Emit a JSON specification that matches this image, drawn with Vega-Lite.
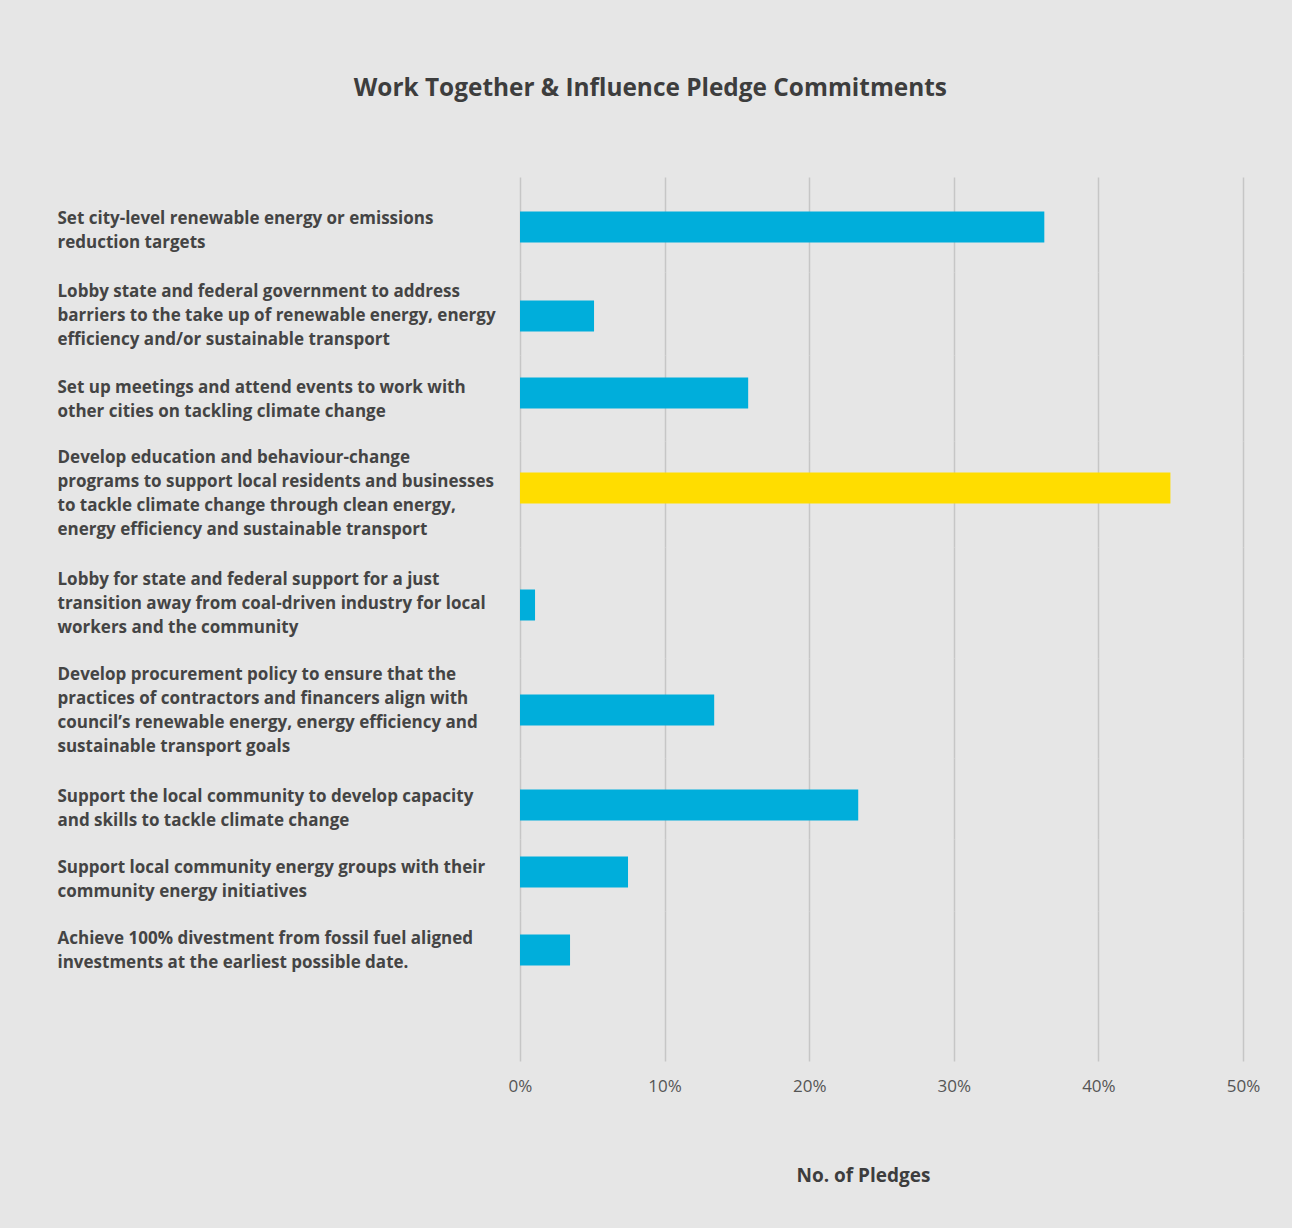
{
  "$schema": "https://vega.github.io/schema/vega-lite/v6.json",
  "autosize": {"type": "pad"},
  "padding": {"left": 57, "top": 75, "right": 32, "bottom": 43},
  "background": "#e6e6e6",
  "bounds": "flush",
  "spacing": 0,
  "config": {
    "view": {"stroke": null},
    "font": "Open Sans",
    "bar": {"height": 31},
    "axisY": {
      "ticks": false,
      "tickSize": 0,
      "domain": false,
      "grid": false,
      "labelAlign": "left",
      "labelBaseline": "middle",
      "labelPadding": 463,
      "labelLimit": 520,
      "labelFont": "Open Sans",
      "labelFontSize": 17,
      "labelFontWeight": "bold",
      "labelColor": "#444444",
      "labelLineHeight": 24
    },
    "axisX": {
      "grid": true,
      "gridColor": "#c6c6c6",
      "gridWidth": 1.5,
      "domain": false,
      "ticks": false,
      "tickSize": 0,
      "labelPadding": 17,
      "labelFont": "Open Sans",
      "labelFontSize": 17,
      "labelColor": "#555555",
      "labelFlush": false,
      "titleFont": "Open Sans",
      "titleFontSize": 19,
      "titleFontWeight": "bold",
      "titleColor": "#3d3d3d"
    }
  },
  "title": {
    "text": "Work Together & Influence Pledge Commitments",
    "font": "Open Sans",
    "fontSize": 24.4,
    "fontWeight": "bold",
    "color": "#3d3d3d",
    "anchor": "middle",
    "baseline": "middle",
    "offset": 64,
    "dx": -8
  },
  "data": {
    "values": [
      {"pledge": "Set city-level renewable energy or emissions\nreduction targets", "pct": 0.3626},
      {"pledge": "Lobby state and federal government to address\nbarriers to the take up of renewable energy, energy\nefficiency and/or sustainable transport", "pct": 0.0512},
      {"pledge": "Set up meetings and attend events to work with\nother cities on tackling climate change", "pct": 0.1578},
      {"pledge": "Develop education and behaviour-change\nprograms to support local residents and businesses\nto tackle climate change through clean energy,\nenergy efficiency and sustainable transport", "pct": 0.4498},
      {"pledge": "Lobby for state and federal support for a just\ntransition away from coal-driven industry for local\nworkers and the community", "pct": 0.0104},
      {"pledge": "Develop procurement policy to ensure that the\npractices of contractors and financers align with\ncouncil’s renewable energy, energy efficiency and\nsustainable transport goals", "pct": 0.1343},
      {"pledge": "Support the local community to develop capacity\nand skills to tackle climate change", "pct": 0.2339},
      {"pledge": "Support local community energy groups with their\ncommunity energy initiatives", "pct": 0.0747},
      {"pledge": "Achieve 100% divestment from fossil fuel aligned\ninvestments at the earliest possible date.", "pct": 0.0346}
    ]
  },
  "vconcat": [
    {
      "width": 723, "height": 95,
      "transform": [{"filter": "indexof(datum.pledge, 'Set city') === 0"}],
      "mark": "bar",
      "encoding": {
        "y": {"field": "pledge", "type": "nominal", "title": null, "scale": {"paddingInner": 0, "paddingOuter": 1, "align": 0.5395}, "axis": {"labelOffset": -8, "labelExpr": "split(datum.label, '\\n')"}},
        "x": {"field": "pct", "type": "quantitative", "scale": {"domain": [0, 0.5], "nice": false}, "axis": {"values": [0, 0.1, 0.2, 0.3, 0.4, 0.5], "labels": false, "title": null}},
        "color": {"condition": {"test": "datum.pct > 0.4", "value": "#FFDD00"}, "value": "#00AEDB"}
      }
    },
    {
      "width": 723, "height": 83,
      "transform": [{"filter": "indexof(datum.pledge, 'Lobby state') === 0"}],
      "mark": "bar",
      "encoding": {
        "y": {"field": "pledge", "type": "nominal", "title": null, "scale": {"paddingInner": 0, "paddingOuter": 1, "align": 0.5452}, "axis": {"labelOffset": -24, "labelExpr": "split(datum.label, '\\n')"}},
        "x": {"field": "pct", "type": "quantitative", "scale": {"domain": [0, 0.5], "nice": false}, "axis": {"values": [0, 0.1, 0.2, 0.3, 0.4, 0.5], "labels": false, "title": null}},
        "color": {"condition": {"test": "datum.pct > 0.4", "value": "#FFDD00"}, "value": "#00AEDB"}
      }
    },
    {
      "width": 723, "height": 86,
      "transform": [{"filter": "indexof(datum.pledge, 'Set up meetings') === 0"}],
      "mark": "bar",
      "encoding": {
        "y": {"field": "pledge", "type": "nominal", "title": null, "scale": {"paddingInner": 0, "paddingOuter": 1, "align": 0.4128}, "axis": {"labelOffset": -5, "labelExpr": "split(datum.label, '\\n')"}},
        "x": {"field": "pct", "type": "quantitative", "scale": {"domain": [0, 0.5], "nice": false}, "axis": {"values": [0, 0.1, 0.2, 0.3, 0.4, 0.5], "labels": false, "title": null}},
        "color": {"condition": {"test": "datum.pct > 0.4", "value": "#FFDD00"}, "value": "#00AEDB"}
      }
    },
    {
      "width": 723, "height": 106,
      "transform": [{"filter": "indexof(datum.pledge, 'Develop education') === 0"}],
      "mark": "bar",
      "encoding": {
        "y": {"field": "pledge", "type": "nominal", "title": null, "scale": {"paddingInner": 0, "paddingOuter": 1, "align": 0.4151}, "axis": {"labelOffset": -30, "labelExpr": "split(datum.label, '\\n')"}},
        "x": {"field": "pct", "type": "quantitative", "scale": {"domain": [0, 0.5], "nice": false}, "axis": {"values": [0, 0.1, 0.2, 0.3, 0.4, 0.5], "labels": false, "title": null}},
        "color": {"condition": {"test": "datum.pct > 0.4", "value": "#FFDD00"}, "value": "#00AEDB"}
      }
    },
    {
      "width": 723, "height": 111,
      "transform": [{"filter": "indexof(datum.pledge, 'Lobby for state') === 0"}],
      "mark": "bar",
      "encoding": {
        "y": {"field": "pledge", "type": "nominal", "title": null, "scale": {"paddingInner": 0, "paddingOuter": 1, "align": 0.5338}, "axis": {"labelOffset": -25, "labelExpr": "split(datum.label, '\\n')"}},
        "x": {"field": "pct", "type": "quantitative", "scale": {"domain": [0, 0.5], "nice": false}, "axis": {"values": [0, 0.1, 0.2, 0.3, 0.4, 0.5], "labels": false, "title": null}},
        "color": {"condition": {"test": "datum.pct > 0.4", "value": "#FFDD00"}, "value": "#00AEDB"}
      }
    },
    {
      "width": 723, "height": 100,
      "transform": [{"filter": "indexof(datum.pledge, 'Develop procurement') === 0"}],
      "mark": "bar",
      "encoding": {
        "y": {"field": "pledge", "type": "nominal", "title": null, "scale": {"paddingInner": 0, "paddingOuter": 1, "align": 0.53}, "axis": {"labelOffset": -35, "labelExpr": "split(datum.label, '\\n')"}},
        "x": {"field": "pct", "type": "quantitative", "scale": {"domain": [0, 0.5], "nice": false}, "axis": {"values": [0, 0.1, 0.2, 0.3, 0.4, 0.5], "labels": false, "title": null}},
        "color": {"condition": {"test": "datum.pct > 0.4", "value": "#FFDD00"}, "value": "#00AEDB"}
      }
    },
    {
      "width": 723, "height": 81,
      "transform": [{"filter": "indexof(datum.pledge, 'Support the local') === 0"}],
      "mark": "bar",
      "encoding": {
        "y": {"field": "pledge", "type": "nominal", "title": null, "scale": {"paddingInner": 0, "paddingOuter": 1, "align": 0.6204}, "axis": {"labelOffset": -8, "labelExpr": "split(datum.label, '\\n')"}},
        "x": {"field": "pct", "type": "quantitative", "scale": {"domain": [0, 0.5], "nice": false}, "axis": {"values": [0, 0.1, 0.2, 0.3, 0.4, 0.5], "labels": false, "title": null}},
        "color": {"condition": {"test": "datum.pct > 0.4", "value": "#FFDD00"}, "value": "#00AEDB"}
      }
    },
    {
      "width": 723, "height": 72,
      "transform": [{"filter": "indexof(datum.pledge, 'Support local community') === 0"}],
      "mark": "bar",
      "encoding": {
        "y": {"field": "pledge", "type": "nominal", "title": null, "scale": {"paddingInner": 0, "paddingOuter": 1, "align": 0.4375}, "axis": {"labelOffset": -4, "labelExpr": "split(datum.label, '\\n')"}},
        "x": {"field": "pct", "type": "quantitative", "scale": {"domain": [0, 0.5], "nice": false}, "axis": {"values": [0, 0.1, 0.2, 0.3, 0.4, 0.5], "labels": false, "title": null}},
        "color": {"condition": {"test": "datum.pct > 0.4", "value": "#FFDD00"}, "value": "#00AEDB"}
      }
    },
    {
      "width": 723, "height": 150,
      "transform": [{"filter": "indexof(datum.pledge, 'Achieve 100') === 0"}],
      "mark": "bar",
      "encoding": {
        "y": {"field": "pledge", "type": "nominal", "title": null, "scale": {"paddingInner": 0, "paddingOuter": 1, "align": 0.14}, "axis": {"labelOffset": -11, "labelExpr": "split(datum.label, '\\n')"}},
        "x": {"field": "pct", "type": "quantitative", "scale": {"domain": [0, 0.5], "nice": false}, "axis": {"values": [0, 0.1, 0.2, 0.3, 0.4, 0.5], "format": ".0%", "title": "No. of Pledges", "titleX": 343, "titleY": 114, "titleAlign": "center", "titleBaseline": "middle"}},
        "color": {"condition": {"test": "datum.pct > 0.4", "value": "#FFDD00"}, "value": "#00AEDB"}
      }
    }
  ]
}
